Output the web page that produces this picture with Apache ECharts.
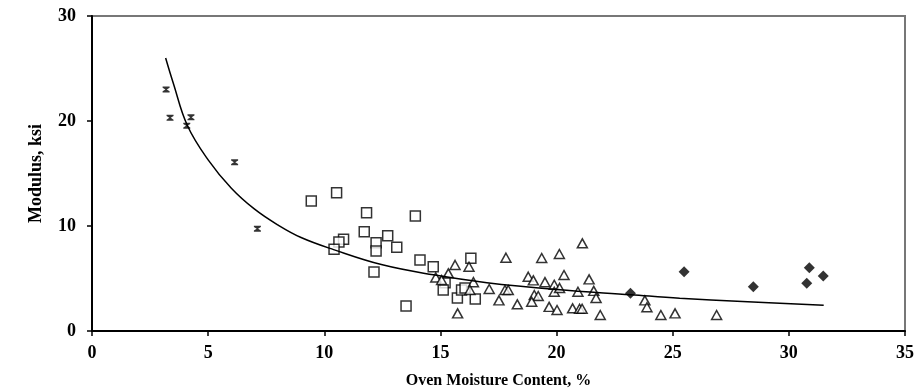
<!DOCTYPE html>
<html>
<head>
<meta charset="utf-8">
<script src="https://cdn.jsdelivr.net/npm/echarts@6/dist/echarts.min.js"></script>
<style>html,body{margin:0;padding:0;background:#fff}#c{width:919px;height:389px}</style>
</head>
<body>
<div id="c"></div>
<script>
// Data
const seriesA = [[3.19,23.0],[3.36,20.3],[4.26,20.35],[4.08,19.55],[6.14,16.07],[7.12,9.74]];
const seriesSquares = [[9.44,12.38],[10.53,13.17],[11.82,11.27],[13.92,10.95],[11.72,9.46],[12.73,9.08],[10.83,8.73],[10.63,8.48],[12.23,8.41],[13.12,7.97],[12.23,7.62],[10.42,7.78],[14.12,6.76],[12.14,5.62],[14.69,6.13],[13.52,2.38],[16.31,6.92],[15.2,4.6],[15.12,3.9],[15.73,3.15],[15.91,3.9],[16.06,4.1],[16.5,3.05]];
const seriesTriangles = [[14.8,5.1],[15.05,4.86],[15.34,5.49],[15.63,6.29],[16.23,6.12],[16.42,4.65],[16.27,3.9],[15.74,1.68],[17.1,4.0],[17.52,2.92],[17.78,3.9],[17.92,3.9],[17.82,6.98],[18.31,2.54],[18.78,5.17],[19.0,4.82],[19.04,3.43],[19.21,3.33],[18.93,2.79],[19.36,6.95],[19.5,4.65],[19.68,2.3],[19.9,4.4],[19.9,3.74],[20.13,4.1],[20.02,2.0],[20.12,7.33],[20.32,5.33],[20.92,3.74],[20.69,2.16],[20.99,2.12],[21.1,2.12],[21.11,8.35],[21.4,4.92],[21.6,3.82],[21.7,3.15],[21.88,1.52],[23.8,2.92],[23.89,2.26],[24.49,1.52],[25.1,1.68],[26.89,1.52]];
const seriesDiamonds = [[23.18,3.59],[25.49,5.65],[28.47,4.22],[30.88,6.03],[30.77,4.54],[31.48,5.24]];
const curveX = [3.17,3.5,4.1,5,6,7,8,9,10.4,12.5,14.7,17,20,23.2,25.3,28,31.5];
const curveY = [26.0,23.6,19.6,16.3,13.6,11.6,10.1,8.9,7.75,6.3,5.35,4.6,3.95,3.45,3.12,2.8,2.45];
const xTicks = [0,5,10,15,20,25,30,35];
const yTicks = [0,10,20,30];

const curve = curveX.map((x,i)=>[x,curveY[i]]);
const font = 'Liberation Serif';
const chart = echarts.init(document.getElementById('c'));
chart.setOption({
  animation:false,
  backgroundColor:'#fff',
  grid:{left:92,right:14,top:16,bottom:58,outerBoundsMode:'none',containLabel:false,show:true,borderColor:'#777',borderWidth:2,backgroundColor:'transparent'},
  xAxis:{type:'value',min:xTicks[0],max:xTicks[xTicks.length-1],interval:5,
    name:'Oven Moisture Content, %',nameLocation:'middle',nameGap:42,
    nameTextStyle:{fontFamily:font,fontWeight:'bold',fontSize:16,color:'#000'},
    axisLine:{lineStyle:{color:'#000',width:2}},
    axisTick:{show:true,inside:false,length:5,lineStyle:{color:'#000',width:1.5}},
    axisLabel:{fontFamily:font,fontWeight:'bold',fontSize:18,color:'#000',margin:13},
    splitLine:{show:false}},
  yAxis:{type:'value',min:yTicks[0],max:yTicks[yTicks.length-1],interval:10,
    name:'Modulus, ksi',nameLocation:'middle',nameGap:47,
    nameTextStyle:{fontFamily:font,fontWeight:'bold',fontSize:18,color:'#000'},
    axisLine:{show:true,lineStyle:{color:'#000',width:2}},
    axisTick:{show:true,inside:false,length:5,lineStyle:{color:'#000',width:1.5}},
    axisLabel:{fontFamily:font,fontWeight:'bold',fontSize:18,color:'#000',margin:16},
    splitLine:{show:false}},
  series:[
    {type:'scatter',data:seriesSquares,symbol:'rect',symbolSize:10,
      itemStyle:{color:'#fff',borderColor:'#000',borderWidth:1.5}},
    {type:'scatter',data:seriesTriangles,symbol:'triangle',symbolSize:[10,9],
      itemStyle:{color:'#fff',borderColor:'#000',borderWidth:1.5}},
    {type:'scatter',data:seriesA,symbol:'path://M0,0 L10,0 L10,2 L6,5 L10,8 L10,10 L0,10 L0,8 L4,5 L0,2 Z',symbolSize:[7,6],
      itemStyle:{color:'#000'}},
    {type:'scatter',data:seriesDiamonds,symbol:'diamond',symbolSize:11,
      itemStyle:{color:'#000'}},
    {type:'line',data:curve,smooth:0.4,showSymbol:false,symbol:'none',
      lineStyle:{color:'#000',width:1.5}}
  ]
});
</script>
</body>
</html>
